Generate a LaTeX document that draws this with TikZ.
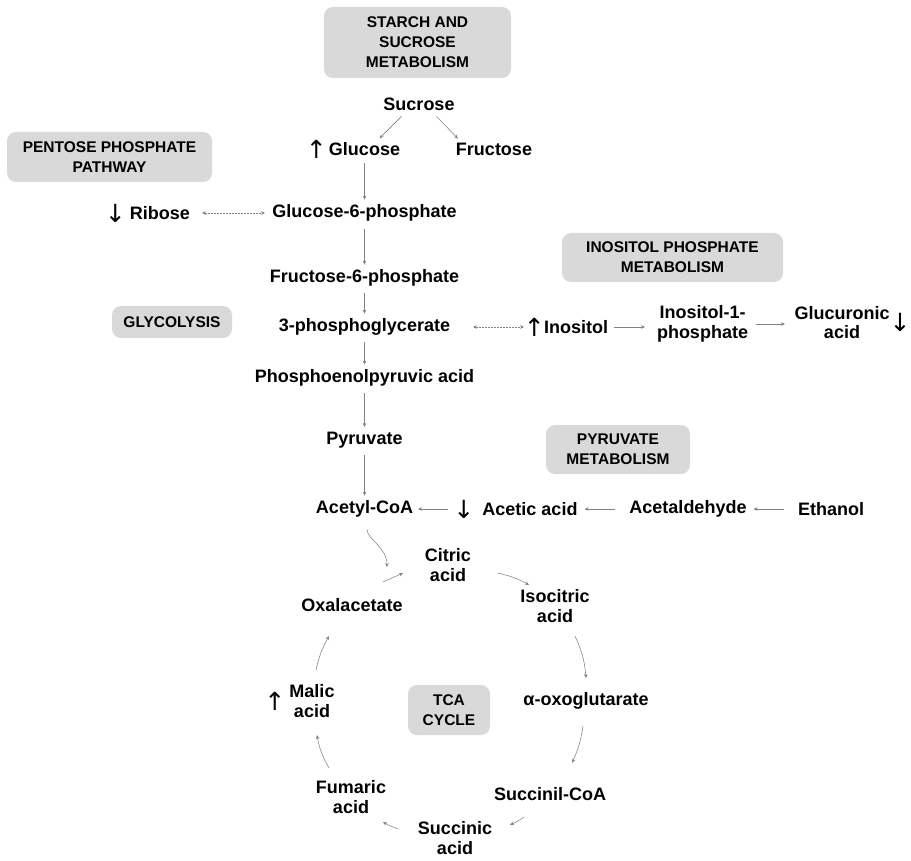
\documentclass[tikz,border=0pt]{standalone}
\usepackage{fontspec}
\setmainfont{Liberation Sans}
\newfontfamily\arrowfont{DejaVu Sans}

\definecolor{pathwaygray}{RGB}{217,217,217}
\definecolor{reactiongray}{RGB}{130,130,130}
\usetikzlibrary{
  arrows.meta     % small stealth tips
}
\newcommand{\incr}{{\arrowfont\fontsize{25}{25}\selectfont ↑}}
\newcommand{\decr}{{\arrowfont\fontsize{25}{25}\selectfont ↓}}

\tikzset{
  x=1pt, y=1pt,   % coordinates in pixels of the layout
  metabolite/.style = {
    font=\bfseries\fontsize{18}{19.5}\selectfont,
    align=center,
    inner sep=2pt,
    outer sep=0pt
  },
  pathway/.style = {
    rectangle,
    rounded corners=9pt,
    fill=pathwaygray,
    font=\bfseries\fontsize{15.5}{20}\selectfont,
    align=center,
    inner sep=0pt
  },
  updown/.style = {inner sep=0pt, text=black},
  rise/.style = {label={[updown, label distance=#1]left:\incr}},
  drop/.style = {label={[updown, label distance=#1]left:\decr}},
  flow/.style = {
    -{Stealth[length=4pt,width=3.6pt]},
    draw=reactiongray,
    line width=0.55pt,
    shorten <=5pt,
    shorten >=3pt
  },
  hflow/.style = {flow, shorten <=12pt, shorten >=5pt},
  exchange/.style = {flow, {Stealth[length=4pt,width=3.6pt]}-{Stealth[length=4pt,width=3.6pt]},
    dash pattern=on 0.6pt off 0.9pt}
}

\begin{document}
\begin{tikzpicture}
\useasboundingbox (0,0) rectangle (911,-861);

% pathway boxes
\node[pathway, minimum width=187pt, minimum height=71pt] (starch)   at (417.5,-42.5) {STARCH AND\\SUCROSE\\METABOLISM};
\node[pathway, minimum width=205pt, minimum height=50pt] (pentose)  at (109.5,-157)  {PENTOSE PHOSPHATE\\PATHWAY};
\node[pathway, minimum width=120pt, minimum height=32pt] (glycol)   at (172,-322)    {GLYCOLYSIS};
\node[pathway, minimum width=221pt, minimum height=49pt] (inosbox)  at (672.5,-257.5) {INOSITOL PHOSPHATE\\METABOLISM};
\node[pathway, minimum width=144pt, minimum height=49pt] (pyrubox)  at (618,-449.5)  {PYRUVATE\\METABOLISM};
\node[pathway, minimum width=82pt,  minimum height=50pt] (tca)      at (449,-710)    {TCA\\CYCLE};

% metabolites
\node[metabolite]             (sucrose)    at (419,-104.5) {Sucrose};
\node[metabolite, rise=0pt]   (glucose)    at (364.5,-149) {Glucose};
\node[metabolite, drop=2pt]   (ribose)     at (160,-213)   {Ribose};
\node[metabolite]             (fructose)   at (494,-149)   {Fructose};
\node[metabolite]             (g6p)        at (364.5,-213) {Glucose-6-phosphate};
\node[metabolite]             (f6p)        at (364.5,-278) {Fructose-6-phosphate};
\node[metabolite]             (pga)        at (364.5,-327) {3-phosphoglycerate};
\node[metabolite, rise=-3pt]  (inositol)   at (576,-327)   {Inositol};
\node[metabolite]             (ino1p)      at (702.5,-324) {Inositol-1-\\phosphate};
\node[metabolite, label={[updown, label distance=-2pt]right:\decr}]
                              (glucuronic) at (842,-322.5) {Glucuronic\\acid};
\node[metabolite]             (pep)        at (364.5,-378) {Phosphoenolpyruvic acid};
\node[metabolite]             (pyruvate)   at (364.5,-440) {Pyruvate};
\node[metabolite]             (acetyl)     at (364.5,-509) {Acetyl-CoA};
\node[metabolite, drop=6pt]   (acetic)     at (530,-509)   {Acetic acid};
\node[metabolite]             (acetald)    at (688,-509)   {Acetaldehyde};
\node[metabolite]             (ethanol)    at (831,-509)   {Ethanol};

% TCA cycle
\node[metabolite]             (citric)     at (448,-565)   {Citric\\acid};
\node[metabolite]             (isocitric)  at (555,-606)   {Isocitric\\acid};
\node[metabolite]             (oxoglut)    at (586,-701)   {α-oxoglutarate};
\node[metabolite]             (succcoa)    at (550,-794)   {Succinil-CoA};
\node[metabolite]             (succinic)   at (455,-838)   {Succinic\\acid};
\node[metabolite]             (fumaric)    at (351,-797)   {Fumaric\\acid};
\node[metabolite, rise=2pt]   (malic)      at (312,-701)   {Malic\\acid};
\node[metabolite]             (oxal)       at (352,-605)   {Oxalacetate};

% glycolysis and side pathways
\draw[flow] ([xshift=-14pt]sucrose.south) -- ([xshift=13pt]glucose.north);
\draw[flow] ([xshift=14pt]sucrose.south) -- ([xshift=-34pt]fructose.north);
\draw[flow] (glucose) -- (g6p);
\draw[flow, shorten <=6pt] (g6p) -- (f6p);
\draw[flow] (f6p) -- (pga);
\draw[flow] (pga) -- (pep);
\draw[flow] (pep) -- (pyruvate);
\draw[flow] (pyruvate) -- (acetyl);
\draw[exchange, shorten <=10pt, shorten >=5.5pt] (ribose) -- (g6p);
\draw[exchange, shorten <=21pt, shorten >=18pt] (pga) -- (inositol);
\draw[flow, shorten <=4pt, shorten >=10pt] (inositol) -- (inositol -| ino1p.west);
\draw[flow, shorten <=6pt, shorten >=7.5pt] (ino1p) -- (ino1p -| glucuronic.west);

% pyruvate metabolism
\draw[hflow] (ethanol) -- (acetald);
\draw[hflow] (acetald) -- (acetic);
\draw[flow, shorten <=32.5pt, shorten >=3pt] (acetic) -- (acetyl);

% TCA cycle
\draw[flow, shorten <=10pt, shorten >=0pt] ([xshift=2.5pt]acetyl.south)
  .. controls +(0,-20) and +(0,20) .. ([shift={(-36,-2)}]citric.west);
\draw[flow, shorten <=0pt, shorten >=0pt] ([shift={(31,14.5)}]oxal.north) -- ([shift={(-20,10.25)}]citric.south west);
\draw[flow, shorten <=0pt, shorten >=0pt] ([shift={(25,10.25)}]citric.south east) to[bend left=8] ([shift={(10.5,2.75)}]isocitric.north west);
\draw[flow, shorten <=0pt, shorten >=0pt] ([shift={(20,-11.75)}]isocitric.south) to[bend left=10] ([shift={(0,12.6)}]oxoglut.north);
\draw[flow, shorten <=0pt, shorten >=0pt] ([shift={(-3,-14.6)}]oxoglut.south) to[bend left=8] ([shift={(22,22.5)}]succcoa.north);
\draw[flow, shorten <=0pt, shorten >=0pt] ([shift={(-26,-14.5)}]succcoa.south) to[bend left=5] ([shift={(16,-5.25)}]succinic.north east);
\draw[flow, shorten <=0pt, shorten >=0pt] ([shift={(-18,-9.25)}]succinic.north west) to[bend left=5] ([shift={(-5,-6.75)}]fumaric.south east);
\draw[flow, shorten <=0pt, shorten >=0pt] ([shift={(-22,10.75)}]fumaric.north) to[bend left=10] ([shift={(5,-15.75)}]malic.south);
\draw[flow, shorten <=0pt, shorten >=0pt] ([shift={(4,12.75)}]malic.north) to[bend left=8] ([shift={(-23,-22.5)}]oxal.south);
\end{tikzpicture}
\end{document}
